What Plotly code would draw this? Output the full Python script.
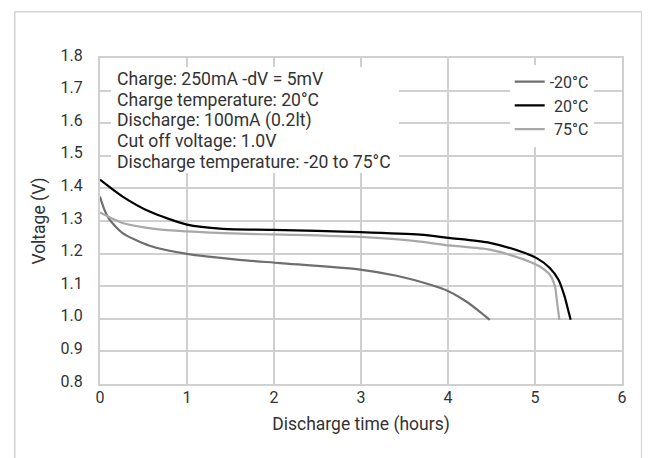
import plotly.graph_objects as go

# Discharge curves (hours, volts)
t_m20 = [0, 0.05, 0.11, 0.26, 0.57, 1.0, 1.6, 2.07, 2.99, 3.41, 3.79, 4.01, 4.21, 4.36, 4.48]
v_m20 = [1.375, 1.335, 1.304, 1.263, 1.224, 1.199, 1.181, 1.171, 1.151, 1.132, 1.105, 1.084, 1.053, 1.023, 0.997]

t_20 = [0, 0.26, 0.57, 1.0, 1.41, 1.99, 2.99, 3.68, 4.01, 4.48, 4.86, 5.02, 5.17, 5.27, 5.34, 5.38, 5.41]
v_20 = [1.427, 1.375, 1.329, 1.289, 1.276, 1.273, 1.266, 1.258, 1.248, 1.233, 1.204, 1.186, 1.156, 1.12, 1.069, 1.028, 0.997]

t_75 = [0, 0.26, 0.65, 1.0, 1.61, 2.1, 2.99, 3.68, 4.01, 4.48, 4.86, 5.05, 5.17, 5.23, 5.25, 5.28]
v_75 = [1.326, 1.294, 1.275, 1.268, 1.261, 1.258, 1.251, 1.237, 1.225, 1.212, 1.183, 1.161, 1.135, 1.099, 1.059, 0.997]

series_names = ["-20°C", "\u200820°C", "\u200875°C"]
series_colors = ["#6e6e6e", "#000000", "#a8a8a8"]

x_ticks = [0, 1, 2, 3, 4, 5, 6]
y_ticks = [0.8, 0.9, 1.0, 1.1, 1.2, 1.3, 1.4, 1.5, 1.6, 1.7, 1.8]

notes = [
    "Charge: 250mA -dV = 5mV",
    "Charge temperature: 20°C",
    "Discharge: 100mA (0.2lt)",
    "Cut off voltage: 1.0V",
    "Discharge temperature: -20 to 75°C",
]

FONT = "Roboto, 'Noto Sans', sans-serif"
TXT = "#333333"
GRID = "#d0d0d0"

# page body has an 8px margin: work in screen pixels, convert to figure pixels
OFF = 8
W, H = 650 - OFF, 458 - OFF
L, R, T, B = 100.3 - OFF, 622.3 - OFF, 58.3 - OFF, 384.3 - OFF
pw, ph = R - L, B - T

def px_x(p):
    return (p - OFF - L) / pw

def px_y(p):
    return (B - (p - OFF)) / ph

fig = go.Figure()
for t, v, name, col in zip([t_m20, t_20, t_75], [v_m20, v_20, v_75], series_names, series_colors):
    fig.add_trace(go.Scatter(
        x=t, y=v, mode="lines", name=name,
        line=dict(color=col, width=2.2, shape="spline", smoothing=0.7),
    ))

shapes = [
    # outer frame
    dict(type="rect", xref="paper", yref="paper",
         x0=px_x(15), x1=px_x(642), y0=px_y(480), y1=px_y(12),
         line=dict(color="#d4d4d4", width=1.6), fillcolor="rgba(0,0,0,0)", layer="above"),
]

annotations = [
    # white panel behind the notes
    dict(text=" ", xref="paper", yref="paper", x=px_x(111), y=px_y(67),
         xanchor="left", yanchor="top", showarrow=False,
         width=288, height=106, bgcolor="white", borderpad=0, borderwidth=0),
]
note_y = [79, 100, 121, 141, 162]
for txt, yy in zip(notes, note_y):
    annotations.append(dict(
        text=txt, xref="paper", yref="paper", x=px_x(115), y=px_y(yy),
        xanchor="left", yanchor="middle", showarrow=False,
        font=dict(family=FONT, size=17.6, color=TXT),
    ))

fig.update_layout(
    template="none",
    width=W, height=H,
    margin=dict(l=L, r=W - R, t=T, b=H - B, pad=0, autoexpand=False),
    paper_bgcolor="white", plot_bgcolor="white",
    font=dict(family=FONT, size=16, color=TXT),
    shapes=shapes, annotations=annotations,
    showlegend=True,
    legend=dict(
        x=px_x(510), y=px_y(65), xanchor="left", yanchor="top",
        bgcolor="white", borderwidth=0,
        font=dict(family=FONT, size=16, color=TXT),
        itemwidth=30, tracegroupgap=0,
    ),
    xaxis=dict(
        range=[0, 6], tickvals=x_ticks, ticktext=[str(v) for v in x_ticks],
        showgrid=True, gridcolor=GRID, gridwidth=2,
        showline=True, linecolor=GRID, linewidth=2, mirror=True,
        zeroline=False, ticks="", ticklabelstandoff=-2, automargin=False,
        tickfont=dict(family=FONT, size=16, color=TXT),
        title=dict(text="Discharge time (hours)", standoff=12,
                   font=dict(family=FONT, size=17.5, color=TXT)),
    ),
    yaxis=dict(
        range=[0.8, 1.8], tickvals=y_ticks, ticktext=[f"{v:.1f}" for v in y_ticks],
        showgrid=True, gridcolor=GRID, gridwidth=2,
        showline=True, linecolor=GRID, linewidth=2, mirror=True,
        zeroline=False, ticks="", ticklabelstandoff=12, ticklabelshift=-3,
        automargin=False,
        tickfont=dict(family=FONT, size=16, color=TXT),
        title=dict(text="Voltage (V)", standoff=10,
                   font=dict(family=FONT, size=17.5, color=TXT)),
    ),
)

fig.write_html("out.html")
